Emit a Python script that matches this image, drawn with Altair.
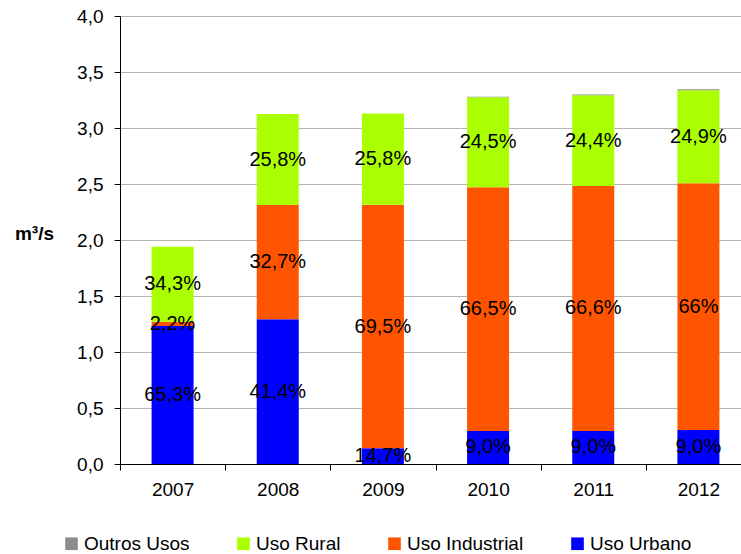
import altair as alt
import pandas as pd

# Vazões por uso (m³/s), por ano
anos = ["2007", "2008", "2009", "2010", "2011", "2012"]
urbano = [1.232, 1.292, 0.140, 0.295, 0.295, 0.304]
industrial = [0.038, 1.020, 2.175, 2.175, 2.187, 2.202]
rural = [0.670, 0.8125, 0.815, 0.804, 0.810, 0.830]
outros = [0.0, 0.0, 0.0, 0.005, 0.006, 0.009]

# Participação percentual de cada uso
urbano_pct = ["65,3%", "41,4%", "14,7%", "9,0%", "9,0%", "9,0%"]
industrial_pct = ["2,2%", "32,7%", "69,5%", "66,5%", "66,6%", "66%"]
rural_pct = ["34,3%", "25,8%", "25,8%", "24,5%", "24,4%", "24,9%"]

usos = ["Outros Usos", "Uso Rural", "Uso Industrial", "Uso Urbano"]
cores = ["#8c8c8c", "#aaff00", "#ff5500", "#0000ff"]

# Empilhamento de baixo para cima: urbano, industrial, rural, outros
series = [
    ("Uso Urbano", urbano, urbano_pct),
    ("Uso Industrial", industrial, industrial_pct),
    ("Uso Rural", rural, rural_pct),
    ("Outros Usos", outros, [""] * len(anos)),
]

rows = []
for i, ano in enumerate(anos):
    base = 0.0
    for nome, valores, pcts in series:
        v = valores[i]
        rows.append({
            "ano": ano,
            "uso": nome,
            "ini": base,
            "fim": base + v,
            "meio": base + v / 2,
            "rotulo": pcts[i],
        })
        base += v
df = pd.DataFrame(rows)

font = "Liberation Sans"

x_enc = alt.X(
    "ano:N",
    sort=anos,
    title=None,
    scale=alt.Scale(range=[0, 631], paddingInner=0, paddingOuter=0),
    axis=alt.Axis(
        labelAngle=0,
        labelFont=font,
        labelFontSize=19,
        labelColor="#000000",
        labelPadding=10,
        domainColor="#000000",
        tickColor="#000000",
        tickSize=6,
        tickBand="extent",
        grid=False,
    ),
)

bars = alt.Chart(df).mark_bar(size=42).encode(
    x=x_enc,
    y=alt.Y(
        "ini:Q",
        scale=alt.Scale(domain=[0, 4.0], nice=False),
        axis=alt.Axis(
            values=[0, 0.5, 1.0, 1.5, 2.0, 2.5, 3.0, 3.5, 4.0],
            labelExpr="replace(format(datum.value, '.1f'), '.', ',')",
            labelFont=font,
            labelFontSize=19,
            labelColor="#000000",
            labelPadding=11,
            domainColor="#000000",
            tickColor="#000000",
            tickSize=6,
            gridColor="#b4b4b4",
            title="m³/s",
            titleFont=font,
            titleFontSize=19,
            titleFontWeight="bold",
            titleAngle=0,
            titleAlign="center",
            titleBaseline="middle",
            titleX=-86,
            titleY=217,
        ),
    ),
    y2="fim:Q",
    color=alt.Color(
        "uso:N",
        scale=alt.Scale(domain=usos, range=cores),
        legend=alt.Legend(
            title=None,
            orient="none",
            direction="horizontal",
            legendX=-58,
            legendY=518,
            symbolType="square",
            symbolSize=160,
            symbolStrokeWidth=0,
            symbolOpacity=1,
            labelFont=font,
            labelFontSize=19,
            labelColor="#000000",
            labelOffset=3,
            columnPadding=44,
        ),
    ),
)

labels = alt.Chart(df).mark_text(
    font=font, fontSize=20, color="#000000", baseline="middle", align="center"
).encode(
    x=alt.X("ano:N", sort=anos),
    y=alt.Y("meio:Q"),
    text="rotulo:N",
)

chart = (
    alt.layer(bars, labels)
    .properties(
        width=621,
        height=448,
        autosize=alt.AutoSizeParams(type="none"),
        padding={"left": 120, "top": 16, "right": 0, "bottom": 90},
        background="#ffffff",
    )
    .configure_view(stroke=None)
)

chart.save("out.html", embed_options={"renderer": "svg", "actions": False})
